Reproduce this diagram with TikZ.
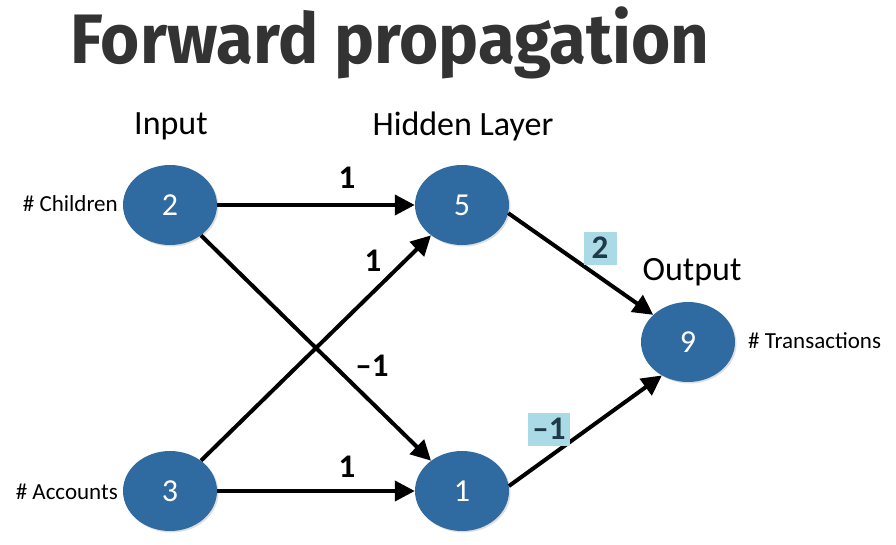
\documentclass[tikz,border=0pt]{standalone}
\usepackage{fontspec}
\setmainfont{Carlito}
\newfontfamily\titlefont[FakeStretch=0.96]{Fira Sans}
\usetikzlibrary{arrows.meta,shapes.geometric,shadows}
\definecolor{neuron}{RGB}{47,107,160}
\definecolor{titlegray}{RGB}{51,51,51}
\definecolor{weightbg}{RGB}{170,218,230}
\definecolor{weightfg}{RGB}{30,58,72}
\begin{document}
\begin{tikzpicture}[x=1pt,y=-1pt,
  neuronnode/.style={ellipse,fill=neuron,minimum width=94pt,minimum height=80pt,
    inner sep=0pt,text=white,font=\fontsize{32}{36}\selectfont,
    drop shadow={shadow xshift=1.5pt,shadow yshift=-1.5pt,opacity=0.25}},
  layertitle/.style={font=\fontsize{34}{40}\selectfont,text=black},
  featurelabel/.style={font=\fontsize{23}{28}\selectfont,text=black,inner sep=0pt},
  weight/.style={font=\bfseries\fontsize{33}{38}\selectfont,text=black,inner sep=0pt},
  weightbox/.style={fill=weightbg,text=weightfg,font=\bfseries\fontsize{33}{38}\selectfont,
    minimum height=33pt,minimum width=33pt,inner xsep=4pt,inner ysep=0pt},
  link/.style={line width=4pt,-{Triangle[length=20pt,width=20pt]}}]
\useasboundingbox (0,0) rectangle (896,544);
\fill[white] (0,0) rectangle (896,544);

% title
\node[font=\titlefont\bfseries\fontsize{70}{84}\selectfont,text=titlegray,anchor=base]
  (title) at (390,63) {Forward propagation};

% layer headings
\node[layertitle] (hin) at (171,126) {Input};
\node[layertitle] (hhid) at (463,126) {Hidden Layer};
\node[layertitle] (hout) at (692,272) {Output};

% neurons
\node[neuronnode] (n2) at (170,205) {2};
\node[neuronnode] (n3) at (170,491) {3};
\node[neuronnode] (n5) at (462,205) {5};
\node[neuronnode] (n1) at (462,491) {1};
\node[neuronnode] (n9) at (688,342) {9};

% feature names
\node[featurelabel,anchor=east] (fch) at (118,204) {\# Children};
\node[featurelabel,anchor=east] (fac) at (118,492) {\# Accounts};
\node[featurelabel,anchor=west] (ftr) at (748,341) {\# Transactions};

% connections
\draw[link] (n2) -- (n5);
\draw[link] (n2) -- (n1);
\draw[link] (n3) -- (n5);
\draw[link] (n3) -- (n1);
\draw[link] (n5.-10) -- (n9.142);
\draw[link] (n1.6) -- (n9.232);

% weights
\node[weight] (w25) at (347,178) {1};
\node[weight] (w35) at (373,261) {1};
\node[weight] (w21) at (372,366) {–1};
\node[weight] (w31) at (347,467) {1};
\node[weightbox] (w59) at (600,248) {2};
\node[weightbox] (w19) at (549,429) {–1};
\end{tikzpicture}
\end{document}
